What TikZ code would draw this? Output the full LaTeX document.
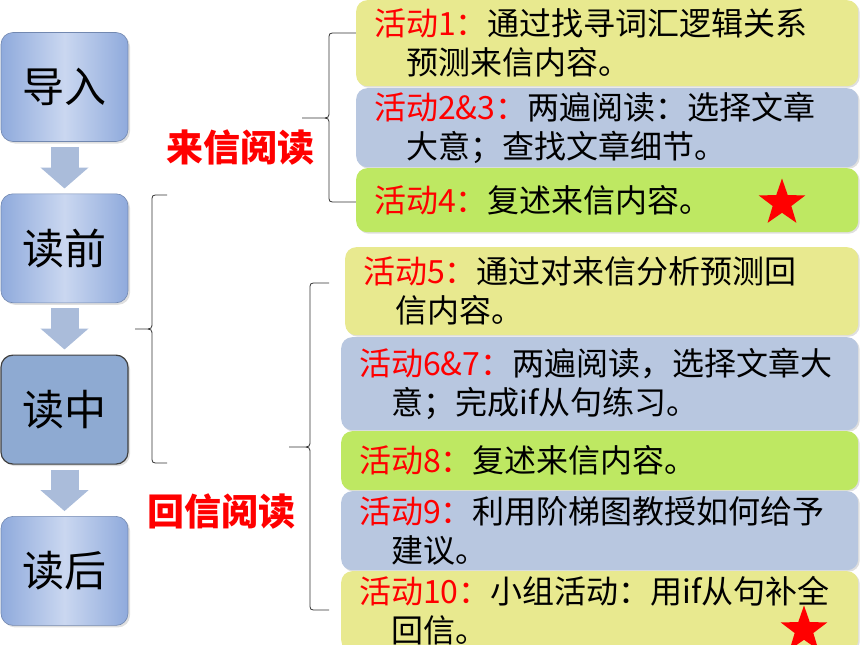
\documentclass[tikz,border=0pt]{standalone}
\usepackage{fontspec}
\newfontfamily\cjk{Noto Sans CJK SC}
\usepackage{tikz}
\usetikzlibrary{shapes.geometric, arrows}
\usetikzlibrary{arrows.meta}
\usetikzlibrary{shadows}
\definecolor{stageedge}{RGB}{143,170,220}
\definecolor{stagemid}{RGB}{202,215,240}
\definecolor{stagedark}{RGB}{142,170,210}
\definecolor{actyellow}{RGB}{232,233,143}
\definecolor{actblue}{RGB}{184,199,224}
\definecolor{actgreen}{RGB}{190,232,98}
\definecolor{flowgrey}{RGB}{170,188,218}
\tikzstyle{stagebase} = [rectangle, rounded corners=12pt, minimum width=127pt, minimum height=109pt, text centered, font=\cjk\fontsize{42}{42}\selectfont, drop shadow={opacity=0.25,shadow xshift=2pt,shadow yshift=-2pt}]
\tikzstyle{stage} = [stagebase, draw=stageedge!80!black, line width=0.6pt, left color=stageedge, right color=stageedge, middle color=stagemid]
\tikzstyle{stagenow} = [stagebase, draw=black!75, line width=1.2pt, fill=stagedark]
\tikzstyle{act} = [rectangle, rounded corners=11pt, anchor=north west, align=left, inner xsep=18pt, inner ysep=0pt, font=\cjk\fontsize{32}{39}\selectfont, drop shadow={opacity=0.25,shadow xshift=1.5pt,shadow yshift=-1.5pt}]
\tikzstyle{flow} = [line width=28pt, draw=flowgrey, -{Triangle[width=47pt,length=21pt]}, shorten <=5pt, shorten >=5pt]
\tikzstyle{phase} = [text=red, font=\cjk\bfseries\fontsize{37}{37}\selectfont]
\tikzstyle{redstar} = [star, star points=5, star point ratio=2.5, fill=red, inner sep=0pt, minimum size=49pt]
\tikzstyle{curlyline} = [draw=black!80, line width=0.8pt]
\newcommand{\curly}[6]{\draw[curlyline] (#5,#2) -- (#1+7,#2) .. controls (#1,#2) .. (#1,#2+7) -- (#1,#3-7) .. controls (#1,#3) .. (#1-9,#3) -- (#6,#3) (#1-9,#3) .. controls (#1,#3) .. (#1,#3+7) -- (#1,#4-7) .. controls (#1,#4) .. (#1+7,#4) -- (#5,#4);}
\newcommand{\actno}[1]{\textcolor{red}{#1}}

\begin{document}
\begin{tikzpicture}[x=1pt, y=-1pt, node distance=161.3pt]
\useasboundingbox (0,0) rectangle (860,645);

% reading stages
\node (daoru) [stage] at (64.5,87) {导入};
\node (duqian) [stage, below of=daoru] {读前};
\node (duzhong) [stagenow, below of=duqian] {读中};
\node (duhou) [stage, below of=duzhong] {读后};

\draw [flow] (daoru) -- (duqian);
\draw [flow] (duqian) -- (duzhong);
\draw [flow] (duzhong) -- (duhou);

% braces
\curly{329}{33}{118}{202}{356}{302}
\curly{152}{195}{329}{463}{167}{135}
\curly{310}{283}{447}{610}{329}{289}

\node (laixin) [phase] at (240,148) {来信阅读};
\node (huixin) [phase] at (221,512) {回信阅读};

% activities
\node (a1) [act, fill=actyellow, text width=466pt, minimum height=86pt] at (356,0) {\actno{活动1：}通过找寻词汇逻辑关系\\\hspace*{1em}预测来信内容。};
\node (a23) [act, fill=actblue, text width=466pt, minimum height=79pt] at (356,88) {\actno{活动2\&3：}两遍阅读：选择文章\\\hspace*{1em}大意；查找文章细节。};
\node (a4) [act, fill=actgreen, text width=466pt, minimum height=64pt] at (356,168) {\actno{活动4：}复述来信内容。};
\node (a5) [act, fill=actyellow, text width=477pt, minimum height=88pt] at (345,247) {\actno{活动5：}通过对来信分析预测回\\\hspace*{1em}信内容。};
\node (a67) [act, fill=actblue, text width=481pt, minimum height=93pt] at (341,337) {\actno{活动6\&7：}两遍阅读，选择文章大\\\hspace*{1em}意；完成if从句练习。};
\node (a8) [act, fill=actgreen, text width=481pt, minimum height=59pt] at (341,431) {\actno{活动8：}复述来信内容。};
\node (a9) [act, fill=actblue, text width=481pt, minimum height=79pt] at (341,491) {\actno{活动9：}利用阶梯图教授如何给予\\\hspace*{1em}建议。};
\node (a10) [act, fill=actyellow, text width=481pt, minimum height=80pt] at (341,571) {\actno{活动10：}小组活动：用if从句补全\\\hspace*{1em}回信。};

\node (s4) [redstar] at (782,203) {};
\node (s10) [redstar] at (804,630) {};

\end{tikzpicture}
\end{document}
